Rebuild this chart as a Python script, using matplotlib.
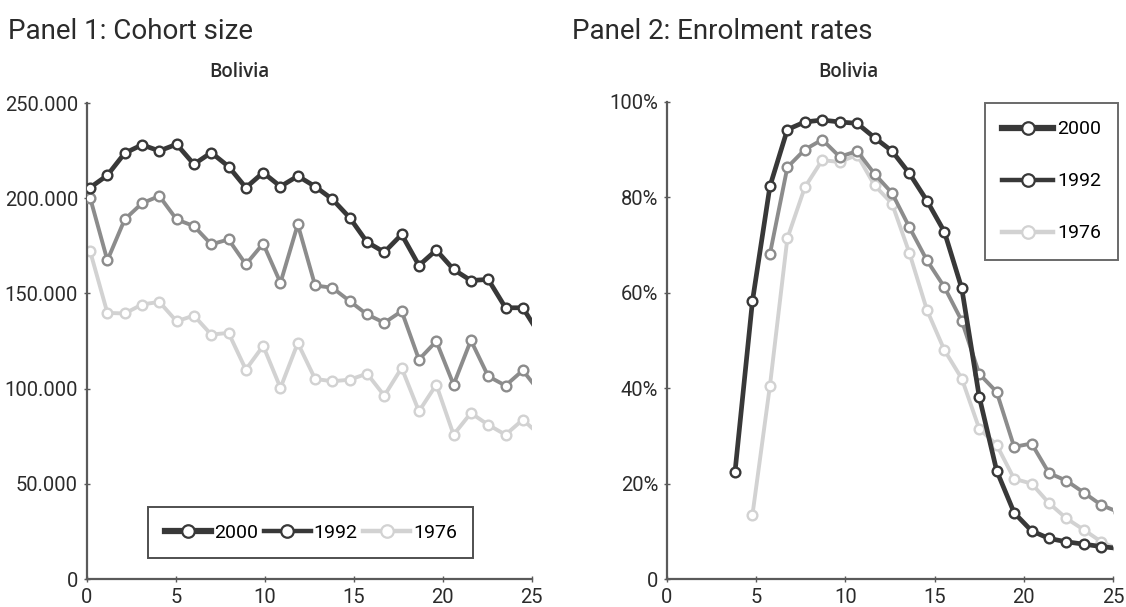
import numpy as np
import matplotlib
matplotlib.use("Agg")
import matplotlib.pyplot as plt
from matplotlib.lines import Line2D
from matplotlib.ticker import FuncFormatter

plt.rcParams['font.family'] = ['Roboto', 'DejaVu Sans']

# Cohort size by single year of age (census years)
cohort_ages = np.arange(0, 27)
cohort_2000 = [205600, 212100, 223700, 228100, 224900, 228400, 217900, 224000, 216700,
               205600, 213500, 206200, 211700, 206200, 199500, 189800, 177000, 171700,
               181000, 164700, 172800, 162600, 156800, 157400, 142500, 142500, 128000]
cohort_1992 = [200400, 167400, 188900, 197400, 201200, 188900, 185400, 175800, 178400,
               165300, 176200, 155600, 186300, 154200, 153000, 146000, 139000, 134600,
               140700, 115300, 124900, 102100, 125400, 106500, 101600, 109600, 98000]
cohort_1976 = [172300, 139800, 139500, 144200, 145600, 135400, 138400, 128400, 129300,
               110000, 122500, 100400, 124000, 105100, 103900, 104700, 107900, 96300,
               110900, 88100, 102100, 75800, 87200, 81000, 75800, 83700, 75500]

# Enrolment rates (%) by age
enrol_ages_2000 = np.arange(4, 27)
enrol_2000 = [22.5, 58.3, 82.3, 94.2, 95.8, 96.2, 95.8, 95.5, 92.5, 89.7, 85.0, 79.3,
              72.8, 60.9, 38.2, 22.7, 13.9, 10.1, 8.5, 7.8, 7.3, 6.8, 6.4]
enrol_ages_1992 = np.arange(6, 27)
enrol_1992 = [68.1, 86.3, 90.0, 92.1, 88.5, 89.7, 84.9, 80.9, 73.7, 66.8, 61.2, 54.1,
              43.0, 39.2, 27.7, 28.4, 22.2, 20.6, 18.1, 15.5, 14.0]
enrol_ages_1976 = np.arange(5, 27)
enrol_1976 = [13.5, 40.5, 71.4, 82.1, 87.8, 87.4, 88.9, 82.5, 78.7, 68.3, 56.4, 48.0,
              42.0, 31.5, 28.1, 21.0, 20.0, 15.9, 12.7, 10.3, 7.8, 6.2]

years = ['2000', '1992', '1976']
colors = {'2000': '#383838', '1992': '#8c8c8c', '1976': '#d2d2d2'}
widths = {'2000': 3.4, '1992': 2.8, '1976': 2.8}
axis_color = '#5a5a5a'
text_color = '#2b2b2b'

fig = plt.figure(figsize=(11.26, 6.07), dpi=100)
ax1 = fig.add_axes([0.0773, 0.0461, 0.395, 0.784])
ax2 = fig.add_axes([0.5924, 0.0461, 0.396, 0.786])


def series(ax, x, y, year, z):
    ax.plot(x, y, color=colors[year], lw=widths[year], marker='o', ms=7,
            mfc='white', mec=colors[year], mew=1.7, zorder=z)


# the category axis is slightly compressed relative to the tick scale
x1 = lambda a: 0.17 + 0.973 * np.asarray(a)
x2 = lambda a: -0.10 + 0.978 * np.asarray(a)

series(ax1, x1(cohort_ages), cohort_1976, '1976', 2)
series(ax1, x1(cohort_ages), cohort_1992, '1992', 3)
series(ax1, x1(cohort_ages), cohort_2000, '2000', 4)

series(ax2, x2(enrol_ages_1976), enrol_1976, '1976', 2)
series(ax2, x2(enrol_ages_1992), enrol_1992, '1992', 3)
series(ax2, x2(enrol_ages_2000), enrol_2000, '2000', 4)

for ax in (ax1, ax2):
    ax.set_xlim(0, 25)
    ax.set_xticks([0, 5, 10, 15, 20, 25])
    for s in ('top', 'right'):
        ax.spines[s].set_visible(False)
    for s in ('left', 'bottom'):
        ax.spines[s].set_color(axis_color)
        ax.spines[s].set_linewidth(1.6)
    ax.tick_params(direction='inout', length=5, width=1, color=axis_color,
                   labelsize=14.5, labelcolor=text_color, pad=4)

ax1.set_ylim(0, 250000)
ax1.set_yticks(np.arange(0, 250001, 50000))
ax1.yaxis.set_major_formatter(FuncFormatter(
    lambda v, p: '0' if v == 0 else f'{int(v):,}'.replace(',', '.')))

ax2.set_ylim(0, 100)
ax2.set_yticks(np.arange(0, 101, 20))
ax2.yaxis.set_major_formatter(FuncFormatter(
    lambda v, p: '0' if v == 0 else f'{int(v)}%'))

# legend keys: 1992 is printed dark in the key
keys = [
    Line2D([], [], color='#383838', lw=4.5, marker='o', ms=9, mfc='white', mec='#383838', mew=1.6),
    Line2D([], [], color='#383838', lw=3.2, marker='o', ms=9, mfc='white', mec='#383838', mew=1.6),
    Line2D([], [], color='#d2d2d2', lw=3.2, marker='o', ms=9, mfc='white', mec='#d2d2d2', mew=1.6),
]

leg1 = ax1.legend(keys, years, loc='lower left', bbox_to_anchor=(0.137, 0.044),
                  ncol=3, fontsize=14, frameon=True, fancybox=False,
                  handlelength=2.4, handletextpad=0.15, columnspacing=0.3, borderpad=0.85,
                  borderaxespad=0)
leg1.get_frame().set_edgecolor('#222222')
leg1.get_frame().set_linewidth(1.4)

leg2 = ax2.legend(keys, years, loc='upper left', bbox_to_anchor=(0.713, 0.998),
                  ncol=1, fontsize=14, frameon=True, fancybox=False,
                  handlelength=2.6, handletextpad=0.2, labelspacing=1.75, borderpad=0.9,
                  borderaxespad=0)
leg2.get_frame().set_edgecolor('#444444')
leg2.get_frame().set_linewidth(1.4)

fig.text(0.007, 0.935, 'Panel 1: Cohort size', fontsize=20, color=text_color, va='baseline')
fig.text(0.508, 0.935, 'Panel 2: Enrolment rates', fontsize=20, color=text_color, va='baseline')
fig.text(0.213, 0.873, 'Bolivia', fontsize=13.5, color=text_color, ha='center',
         va='baseline', family=['Open Sans', 'DejaVu Sans'], fontweight='semibold')
fig.text(0.753, 0.873, 'Bolivia', fontsize=13.5, color=text_color, ha='center',
         va='baseline', family=['Open Sans', 'DejaVu Sans'], fontweight='semibold')

fig.savefig('out.png', dpi=100, facecolor='white')
